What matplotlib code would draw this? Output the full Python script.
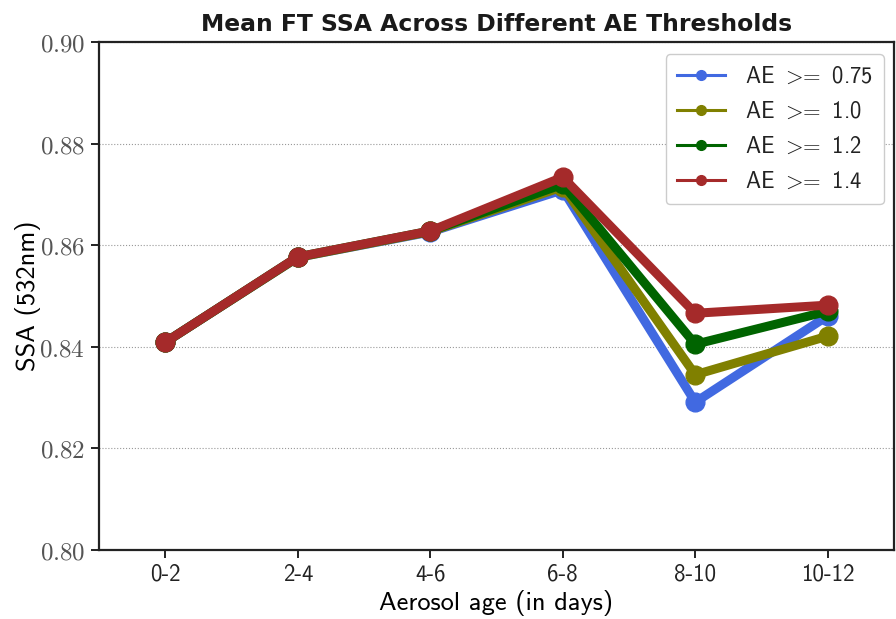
import matplotlib
matplotlib.use("Agg")
import matplotlib.pyplot as plt
from matplotlib.lines import Line2D
from matplotlib.ticker import FormatStrFormatter

plt.rcParams['mathtext.fontset'] = 'cm'
plt.rcParams['axes.unicode_minus'] = False

categories = ["0-2", "2-4", "4-6", "6-8", "8-10", "10-12"]
labels = [r"AE $>\hspace{-0.4}=$ 0.75", r"AE $>\hspace{-0.4}=$ 1.0",
          r"AE $>\hspace{-0.4}=$ 1.2", r"AE $>\hspace{-0.4}=$ 1.4"]
ae_075 = [0.8409, 0.8576, 0.8626, 0.8709, 0.8291, 0.8461]
ae_100 = [0.8409, 0.8576, 0.8627, 0.8715, 0.8345, 0.8421]
ae_120 = [0.8409, 0.8577, 0.8628, 0.8720, 0.8405, 0.8470]
ae_140 = [0.8409, 0.8577, 0.8628, 0.8734, 0.8466, 0.8482]
series = [ae_075, ae_100, ae_120, ae_140]
colors = ["#4169E1", "#808000", "#006400", "#A52A2A"]
yticks = [0.80, 0.82, 0.84, 0.86, 0.88, 0.90]

fig = plt.figure(figsize=(8.96, 6.19), dpi=100)
ax = fig.add_axes([0.1105, 0.1115, 0.8873, 0.8206])

x = list(range(len(categories)))
for vals, c in zip(series, colors):
    ax.plot(x, vals, color=c, lw=6.5, marker='o', ms=13.5, solid_joinstyle='round',
            solid_capstyle='round', zorder=3)

ax.set_xlim(-0.5, 5.5)
ax.set_ylim(0.80, 0.90)
ax.set_yticks(yticks)
ax.yaxis.set_major_formatter(FormatStrFormatter('$%.2f$'))
ax.set_xticks(x)
ax.set_xticklabels(categories, family='cmss10', fontsize=16.5)
for t in ax.get_yticklabels():
    t.set_fontsize(18)

ax.grid(axis='y', color='#999999', ls=':', lw=0.8)
ax.set_axisbelow(True)
for s in ax.spines.values():
    s.set_linewidth(1.6)
    s.set_color('#222222')
ax.tick_params(axis='both', direction='out', length=6, width=1.4, color='#222222',
               labelcolor='#222222', pad=4)
for t in ax.get_yticklabels():
    t.set_color('#555555')

ax.set_xlabel("Aerosol age (in days)", family='cmss10', fontsize=19, labelpad=3)
ax.set_ylabel("SSA (532nm)", family='cmss10', fontsize=19, labelpad=-1.5)
ax.set_title("Mean FT SSA Across Different AE Thresholds", fontsize=16.9,
             fontweight='bold', pad=8, color='#1a1a1a')

handles = [Line2D([0], [0], color=c, lw=2.2, marker='o', ms=7) for c in colors]
leg = ax.legend(handles, labels, loc='upper right', bbox_to_anchor=(0.9874, 0.976),
                borderaxespad=0,
                prop={'family': 'cmss10', 'size': 16.3}, handlelength=2.1,
                handletextpad=0.9, labelspacing=0.58, borderpad=0.5,
                frameon=True, fancybox=True, edgecolor='#cccccc', framealpha=1)
for t in leg.get_texts():
    t.set_color('#222222')

fig.savefig("out.png", dpi=100)
